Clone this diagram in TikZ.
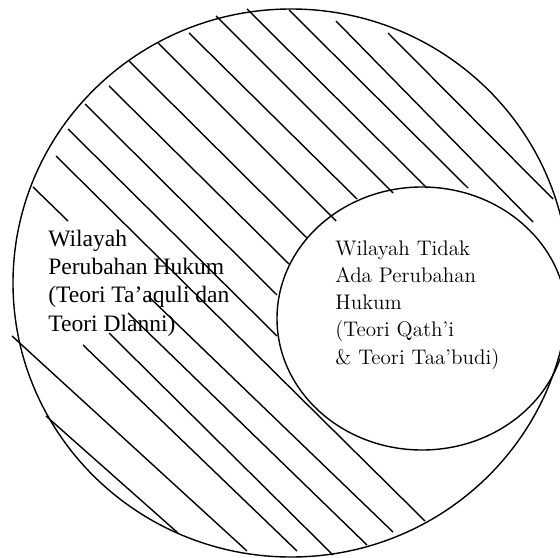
\documentclass[tikz,border=0pt]{standalone}
\usepackage{fontspec}
\newfontfamily\timesfont{Liberation Serif}
\begin{document}
\begin{tikzpicture}[x=0.02cm, y=-0.02cm,
    rim/.style={line width=0.8pt},
    hatch/.style={line width=0.8pt},
    label/.style={align=left, anchor=base west, inner sep=0pt}]
    \useasboundingbox (0,0) rectangle (560,557);
    % outer and inner region
    \draw[rim] (291,283) ellipse (278 and 274);
    \draw[rim] (422,318.5) ellipse (145 and 131.5);
    % texts (base = last line)
    \node[label, font=\timesfont\fontsize{13.4}{16}\selectfont] (ubah) at (48,331)
        {Wilayah\\Perubahan Hukum\\(Teori Ta’aquli dan\\Teori Dlanni)};
    \node[label, font=\fontsize{12}{15.4}\selectfont] (tetap) at (335,364)
        {Wilayah Tidak\\Ada Perubahan\\Hukum\\(Teori Qath’i\\\& Teori Taa’budi)};
    % hatching, upper part
    \draw[hatch] (33,187) -- (68,221);
    \draw[hatch] (68,129) -- (277,336);
    \draw[hatch] (85,104) -- (277,295);
    \draw[hatch] (109,86) -- (289,264);
    \draw[hatch] (129,61) -- (307,238);
    \draw[hatch] (158,43) -- (336,221);
    \draw[hatch] (189,33) -- (357,199);
    \draw[hatch] (216,16) -- (393,193);
    \draw[hatch] (247,9) -- (427,188);
    \draw[hatch] (289,10) -- (468,188);
    \draw[hatch] (336,21) -- (533,222);
    \draw[hatch] (388,33) -- (553,199);
    % hatching, lower part
    \draw[hatch] (56,156) -- (425,521);
    \draw[hatch] (12,336) -- (247,551);
    \draw[hatch] (46,416) -- (178,533);
    \draw[hatch] (83,345) -- (297,551);
    \draw[hatch] (109,333) -- (333,555);
    \draw[hatch] (128,313) -- (367,545);
    \draw[hatch] (148,296) -- (393,532);
\end{tikzpicture}
\end{document}
